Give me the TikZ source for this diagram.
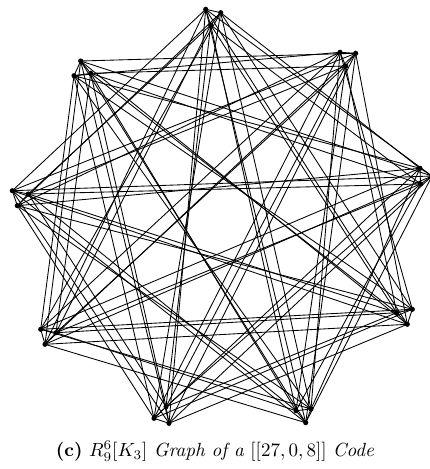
\documentclass[tikz,border=0pt]{standalone}
\begin{document}
\begin{tikzpicture}[x=0.525pt,y=-0.525pt,
  vtx/.style={circle,fill=black,inner sep=0pt,minimum size=2.7pt},
  edge/.style={line width=0.45pt,black}]
\useasboundingbox (0,0) rectangle (430,469);
\begin{scope}
\clip (0,0) rectangle (430,469);
% clusters, ordered counter-clockwise; vertex index = layer
\foreach \nm/\x/\y in {
  0-0/432/176, 0-1/420/168.3, 0-2/420.5/184,
  1-0/355.7/53.3, 1-1/340/52.3, 1-2/345.7/66,
  2-0/205.7/9.3, 2-1/220.7/12.7, 2-2/210.7/25,
  3-0/80.7/61, 3-1/74/75.7, 3-2/90.7/73.3,
  4-0/12.3/190.7, 4-1/17.3/205.7, 4-2/28.3/194,
  5-0/45/344.3, 5-1/40.7/329.3, 5-2/56/332.7,
  6-0/169/423.3, 6-1/154/418.3, 6-2/166/406.7,
  7-0/305.7/422.7, 7-1/311/409, 7-2/296/410.7,
  8-0/407.3/324.3, 8-1/412.3/309.3, 8-2/396.7/312.7}
  \coordinate (v\nm) at (\x,\y);
% edges inside each cluster
\foreach \i in {0,...,8}{
  \draw[edge] (v\i-0) -- (v\i-1);
  \draw[edge] (v\i-1) -- (v\i-2);
  \draw[edge] (v\i-2) -- (v\i-0);
}
% edges between non-adjacent clusters, layer by layer
\foreach \i in {0,...,8}{
  \foreach \j in {0,...,8}{
    \pgfmathtruncatemacro{\dd}{mod(\j-\i+9,9)}
    \ifnum\dd>1\relax
      \ifnum\dd<5\relax
        \foreach \a in {0,1,2}{
          \draw[edge] (v\i-\a) -- (v\j-\a);
        }
      \fi
    \fi
  }
}
% vertices
\foreach \i in {0,...,8}{
  \foreach \a in {0,1,2}{
    \node[vtx] (n\i-\a) at (v\i-\a) {};
  }
}
\end{scope}
\node (cap) at (215,451) {\textbf{(c)} $R_9^6[K_3]$ \textit{Graph of a} $[[27,0,8]]$ \textit{Code}};
\end{tikzpicture}
\end{document}
